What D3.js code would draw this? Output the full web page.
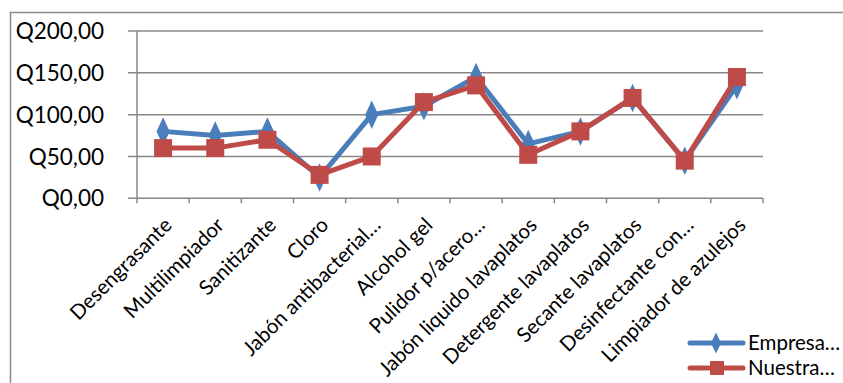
<!DOCTYPE html>
<html>
<head>
<meta charset="utf-8">
<script src="https://cdn.jsdelivr.net/npm/d3@7"></script>
<style>
  html, body { margin: 0; padding: 0; background: #fff; }
  svg { display: block; font-family: Lato, "Open Sans", sans-serif; }
</style>
</head>
<body>
<svg id="chart" width="843" height="383"></svg>
<script>
// Product categories (x axis)
const categories = [
  "Desengrasante", "Multilimpiador", "Sanitizante", "Cloro",
  "Jabón antibacterial…", "Alcohol gel", "Pulidor p/acero…",
  "Jabón liquido lavaplatos", "Detergente lavaplatos", "Secante lavaplatos",
  "Desinfectante con…", "Limpiador de azulejos"
];
// Prices per series (Q)
const empresaValues = [80, 75, 80, 25, 100, 110, 145, 65, 80, 120, 45, 135];
const nuestraValues = [60, 60, 70, 28, 50, 115, 135, 52, 80, 120, 45, 145];
const seriesNames = ["Empresa…", "Nuestra…"];
const yTicks = [0, 50, 100, 150, 200];

const svg = d3.select("#chart");
const blue = "#4a7ebb", red = "#be4b48", grid = "#878787";

// Outer chart frame
svg.append("rect").attr("x", 10.5).attr("y", 12.5).attr("width", 900).attr("height", 500)
  .attr("fill", "none").attr("stroke", "#8c8c8c").attr("stroke-width", 1.5);

const plot = { left: 137, right: 763, top: 31, bottom: 198.3 };

const x = d3.scaleBand().domain(categories).range([plot.left, plot.right]);
const y = d3.scaleLinear().domain([0, 200]).range([plot.bottom, plot.top]);

const fmt = v => "Q" + d3.format(".2f")(v).replace(".", ",");

// Horizontal gridlines with outward tick stubs
const gy = svg.append("g");
gy.selectAll("line").data(yTicks).join("line")
  .attr("x1", plot.left - 9).attr("x2", plot.right)
  .attr("y1", d => y(d)).attr("y2", d => y(d))
  .attr("stroke", grid).attr("stroke-width", 1.5);
gy.selectAll("text").data(yTicks).join("text")
  .attr("x", 104).attr("y", d => y(d)).attr("dy", "0.36em")
  .attr("text-anchor", "end").attr("font-size", 22.5).attr("fill", "#000")
  .text(fmt);

// Vertical axis line
svg.append("line").attr("x1", plot.left).attr("x2", plot.left)
  .attr("y1", plot.top).attr("y2", plot.bottom)
  .attr("stroke", grid).attr("stroke-width", 1.5);

// x tick marks at band boundaries
const bounds = categories.map(c => x(c)).concat([plot.right]);
svg.append("g").selectAll("line").data(bounds).join("line")
  .attr("x1", d => d).attr("x2", d => d)
  .attr("y1", plot.bottom).attr("y2", plot.bottom + 5)
  .attr("stroke", grid).attr("stroke-width", 1.5);

// Rotated category labels
svg.append("g").selectAll("text").data(categories).join("text")
  .attr("transform", d => `translate(${x(d) + x.bandwidth() / 2 + 5},${plot.bottom + 23}) rotate(-45)`)
  .attr("text-anchor", "end").attr("dy", "0.35em")
  .attr("font-size", 20.5).attr("fill", "#000")
  .text(d => d);

const cx = d => x(d) + x.bandwidth() / 2;
const line = d3.line().x(d => cx(d[0])).y(d => y(d[1]));

const diamond = d3.symbol().type(d3.symbolDiamond).size(150);

function drawSeries(values, color, marker) {
  const pts = categories.map((c, i) => [c, values[i]]);
  svg.append("path").datum(pts).attr("d", line)
    .attr("fill", "none").attr("stroke", color).attr("stroke-width", 5)
    .attr("stroke-linejoin", "round");
  const g = svg.append("g");
  if (marker === "diamond") {
    g.selectAll("path").data(pts).join("path")
      .attr("d", diamond)
      .attr("transform", d => `translate(${cx(d[0])},${y(d[1])}) scale(1,1.25)`)
      .attr("fill", color);
  } else {
    g.selectAll("rect").data(pts).join("rect")
      .attr("x", d => cx(d[0]) - 9).attr("y", d => y(d[1]) - 9)
      .attr("width", 18).attr("height", 18).attr("fill", color);
  }
}
drawSeries(empresaValues, blue, "diamond");
drawSeries(nuestraValues, red, "square");

// Legend
const legend = [
  { name: seriesNames[0], color: blue, marker: "diamond", yy: 343 },
  { name: seriesNames[1], color: red, marker: "square", yy: 368 }
];
legend.forEach(l => {
  svg.append("line").attr("x1", 690).attr("x2", 743).attr("y1", l.yy).attr("y2", l.yy)
    .attr("stroke", l.color).attr("stroke-width", 5).attr("stroke-linecap", "round");
  if (l.marker === "diamond") {
    svg.append("path").attr("d", d3.symbol().type(d3.symbolDiamond).size(90)())
      .attr("transform", `translate(716,${l.yy}) scale(1,1.2)`).attr("fill", l.color);
  } else {
    svg.append("rect").attr("x", 710).attr("y", l.yy - 7).attr("width", 14).attr("height", 14)
      .attr("fill", l.color);
  }
  svg.append("text").attr("x", 748).attr("y", l.yy).attr("dy", "0.36em")
    .attr("font-size", 20.5).attr("fill", "#000").text(l.name);
});
</script>
</body>
</html>
